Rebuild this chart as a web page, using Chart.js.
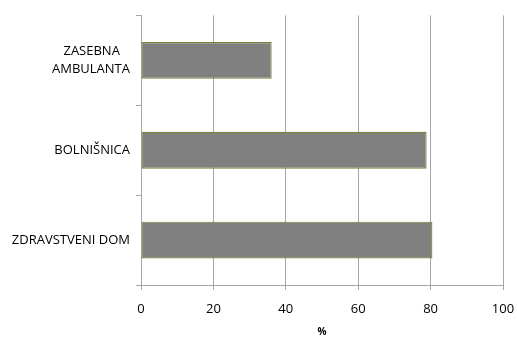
<!DOCTYPE html>
<html>
<head>
<meta charset="utf-8">
<script src="https://cdn.jsdelivr.net/npm/chart.js@4"></script>
<style>
  html, body { margin: 0; padding: 0; background: #fff; }
  #wrap { width: 517px; height: 338px; }
</style>
</head>
<body>
<div id="wrap"><canvas id="chart" width="517" height="338"></canvas></div>
<script>
// --------------------
// Data
// --------------------
const categories = [['ZASEBNA   ', 'AMBULANTA'], 'BOLNIŠNICA', 'ZDRAVSTVENI DOM'];
const shares = [36.1, 78.9, 80.5];
const xTicks = [0, 20, 40, 60, 80, 100];

const gridGray = '#a6a6a6';
const labelFont = { family: 'Open Sans', size: 13 };

// --------------------
// Chart
// --------------------
const ctx = document.getElementById('chart').getContext('2d');
new Chart(ctx, {
  type: 'bar',
  data: {
    labels: categories,
    datasets: [{
      data: shares,
      backgroundColor: '#808080',
      borderColor: '#7f7f3a',
      borderWidth: 1.2,
      borderSkipped: false,
      categoryPercentage: 1,
      barPercentage: 0.41
    }]
  },
  options: {
    indexAxis: 'y',
    responsive: false,
    animation: false,
    layout: { padding: { top: 15, right: 0, left: 0, bottom: 0 } },
    plugins: { legend: { display: false }, tooltip: { enabled: false } },
    scales: {
      x: {
        min: 0,
        max: 100,
        afterBuildTicks: s => { s.ticks = xTicks.map(v => ({ value: v })); },
        afterFit: s => { s.height = 53; s.paddingRight = 14; },
        grid: { color: gridGray, lineWidth: 1, tickLength: 5, drawTicks: true },
        border: { color: gridGray },
        ticks: { color: '#000', font: labelFont, padding: 11 },
        title: { display: true, text: '%', color: '#000', font: { family: 'Open Sans', size: 10, weight: 'bold' }, padding: { top: 6, bottom: 0 } }
      },
      y: {
        afterFit: s => { s.width = 141; },
        grid: { offset: true, drawOnChartArea: false, drawTicks: true, tickLength: 5, color: gridGray },
        border: { color: gridGray },
        ticks: { color: '#000', font: { ...labelFont, lineHeight: 1.45 }, padding: 6 }
      }
    }
  }
});
</script>
</body>
</html>
